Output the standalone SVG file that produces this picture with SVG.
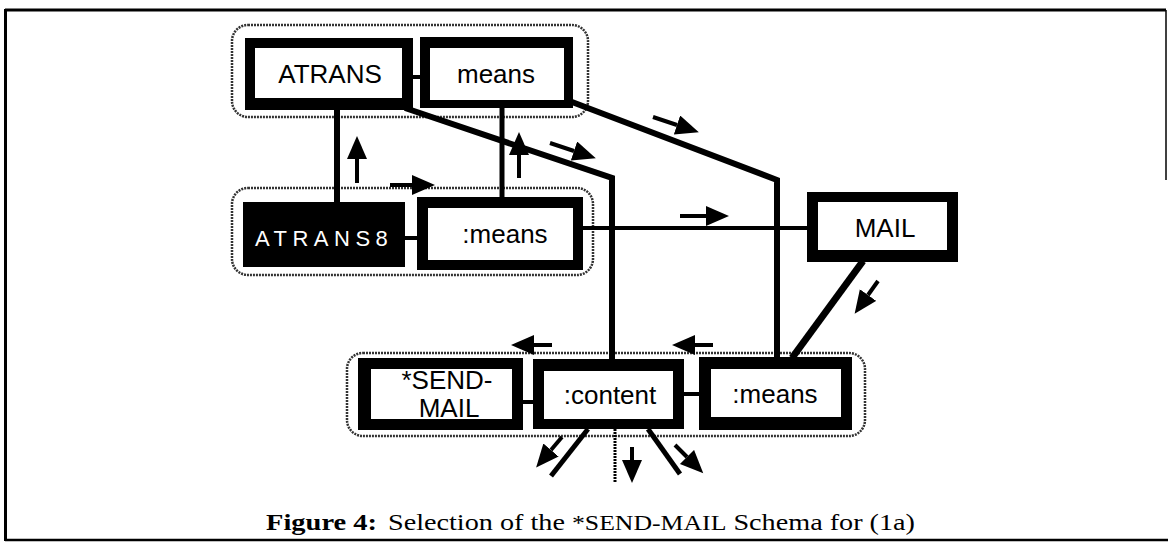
<svg xmlns="http://www.w3.org/2000/svg" width="1168" height="543" viewBox="0 0 1168 543">
  <style>
    .frame { fill: none; stroke: #000; }
    .cluster { fill: none; stroke: #333; stroke-width: 2.5; stroke-dasharray: 2 1; }
    .box { fill: #000; }
    .inner { fill: #fff; }
    .lbl { font-family: "Liberation Sans", Arial, sans-serif; font-size: 26px; fill: #000; text-anchor: middle; }
    .wire { stroke: #000; fill: none; stroke-linejoin: miter; }
    .flow { stroke: #000; stroke-width: 4; fill: none; }
    .cap { font-family: "Liberation Serif", "Times New Roman", serif; font-size: 23px; fill: #000; }
  </style>
  <defs>
    <marker id="head" markerUnits="userSpaceOnUse" markerWidth="24" markerHeight="22" refX="0" refY="10" orient="auto">
      <path d="M0,0 L23,10 L0,20 z" fill="#000"/>
    </marker>
  </defs>
  <rect width="1168" height="543" fill="#fff"/>

  <!-- outer frame -->
  <g id="frame">
    <line class="frame" x1="5" y1="10" x2="1166" y2="10" stroke-width="3"/>
    <line class="frame" x1="5.5" y1="9" x2="5.5" y2="541" stroke-width="3"/>
    <line class="frame" x1="5" y1="540" x2="1168" y2="540" stroke-width="2.5"/>
    <line class="frame" x1="1166" y1="10" x2="1166" y2="180" stroke-width="1.5"/>
  </g>

  <!-- dotted clusters -->
  <g id="clusters">
    <rect class="cluster" x="232" y="25" width="356" height="92" rx="16"/>
    <rect class="cluster" x="232" y="188" width="361" height="87" rx="16"/>
    <rect class="cluster" x="347" y="353" width="518" height="83" rx="16"/>
  </g>

  <!-- connectors -->
  <g id="connectors">
    <line class="wire" x1="412" y1="77" x2="421" y2="77" stroke-width="4"/>
    <line class="wire" x1="337" y1="108" x2="337" y2="203" stroke-width="6"/>
    <line class="wire" x1="502" y1="106" x2="502" y2="198" stroke-width="5"/>
    <line class="wire" x1="404" y1="238" x2="418" y2="238" stroke-width="4"/>
    <polyline class="wire" points="405,108 612,178 612,360" stroke-width="6"/>
    <polyline class="wire" points="572,102 777,180 777,358" stroke-width="6"/>
    <line class="wire" x1="582" y1="228" x2="808" y2="228" stroke-width="4"/>
    <line class="wire" x1="863" y1="261" x2="792" y2="358" stroke-width="7"/>
    <line class="wire" x1="522" y1="402" x2="534" y2="402" stroke-width="4"/>
    <line class="wire" x1="683" y1="394" x2="700" y2="394" stroke-width="4"/>
    <line class="wire" x1="588" y1="429" x2="551" y2="476" stroke-width="5"/>
    <line class="wire" x1="615" y1="429" x2="615" y2="483" stroke-width="3" stroke-dasharray="2 1"/>
    <line class="wire" x1="648" y1="429" x2="680" y2="474" stroke-width="5"/>

    <!-- flow indicator arrows -->
    <line class="flow" x1="357" y1="183" x2="357" y2="159" marker-end="url(#head)"/>
    <line class="flow" x1="519" y1="178" x2="519" y2="155" marker-end="url(#head)"/>
    <line class="flow" x1="390" y1="185" x2="412" y2="185" marker-end="url(#head)"/>
    <line class="flow" x1="550" y1="143" x2="574" y2="151" marker-end="url(#head)"/>
    <line class="flow" x1="653" y1="117" x2="677" y2="125" marker-end="url(#head)"/>
    <line class="flow" x1="680" y1="216" x2="706" y2="216" marker-end="url(#head)"/>
    <line class="flow" x1="878" y1="281" x2="868" y2="295" marker-end="url(#head)"/>
    <line class="flow" x1="552" y1="345" x2="534" y2="345" marker-end="url(#head)"/>
    <line class="flow" x1="713" y1="345" x2="695" y2="345" marker-end="url(#head)"/>
    <line class="flow" x1="562" y1="437" x2="551" y2="450" stroke-width="3" marker-end="url(#head)"/>
    <line class="flow" x1="632" y1="447" x2="632" y2="460" stroke-width="2" marker-end="url(#head)"/>
    <line class="flow" x1="675" y1="445" x2="687" y2="457" stroke-width="3" marker-end="url(#head)"/>
  </g>

  <!-- nodes -->
  <g id="node-atrans">
    <rect class="box" x="245" y="38" width="168" height="72"/>
    <rect class="inner" x="255" y="48" width="147" height="50"/>
    <text class="lbl" x="330" y="83">ATRANS</text>
  </g>
  <g id="node-means">
    <rect class="box" x="420" y="37" width="153" height="71"/>
    <rect class="inner" x="430" y="48" width="134" height="52"/>
    <text class="lbl" x="496" y="83">means</text>
  </g>
  <g id="node-atrans8">
    <rect class="box" x="243" y="202" width="162" height="65"/>
    <text x="255" y="246" font-family="Liberation Sans, Arial, sans-serif" font-size="22" letter-spacing="5.5" fill="#fff">ATRANS8</text>
  </g>
  <g id="node-means-mid">
    <rect class="box" x="417" y="197" width="166" height="73"/>
    <rect class="inner" x="428" y="208" width="145" height="52"/>
    <text class="lbl" x="505" y="243">:means</text>
  </g>
  <g id="node-mail">
    <rect class="box" x="807" y="192" width="151" height="70"/>
    <rect class="inner" x="818" y="202" width="129" height="48"/>
    <text class="lbl" x="885" y="237">MAIL</text>
  </g>
  <g id="node-send-mail">
    <rect class="box" x="358" y="358" width="165" height="72"/>
    <rect class="inner" x="371" y="369" width="141" height="50"/>
    <text class="lbl" font-size="21"><tspan x="447" y="389">*SEND-</tspan><tspan x="449" y="417">MAIL</tspan></text>
  </g>
  <g id="node-content">
    <rect class="box" x="533" y="359" width="151" height="70"/>
    <rect class="inner" x="544" y="371" width="129" height="48"/>
    <text class="lbl" x="610" y="404">:content</text>
  </g>
  <g id="node-means-bottom">
    <rect class="box" x="699" y="357" width="153" height="73"/>
    <rect class="inner" x="711" y="369" width="130" height="48"/>
    <text class="lbl" x="775" y="403">:means</text>
  </g>

  <!-- caption -->
  <g id="caption">
    <text class="cap" x="266" y="530" font-weight="bold" textLength="111" lengthAdjust="spacingAndGlyphs">Figure 4:</text>
    <text class="cap" x="388" y="530" textLength="527" lengthAdjust="spacingAndGlyphs">Selection of the <tspan font-size="21">*SEND-MAIL</tspan> Schema for (1a)</text>
  </g>
</svg>
